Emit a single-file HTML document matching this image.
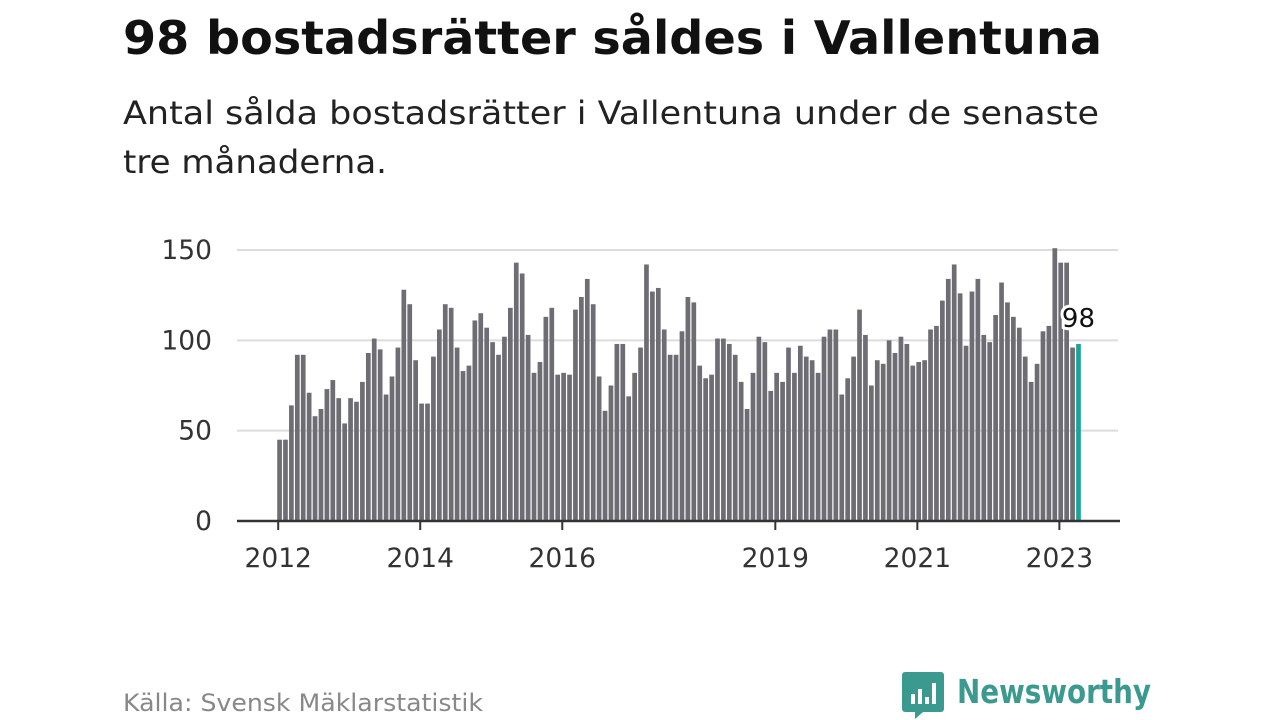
<!DOCTYPE html>
<html><head><meta charset="utf-8"><style>
html,body{margin:0;padding:0;background:#fff;width:1280px;height:720px;overflow:hidden}
svg{display:block}
</style></head><body>
<svg id="c" width="1280" height="720" xmlns="http://www.w3.org/2000/svg" font-family="'DejaVu Sans','Liberation Sans',sans-serif">
<text x="123" y="54" font-size="46" font-weight="bold" fill="#111" textLength="979" lengthAdjust="spacingAndGlyphs">98 bostadsrätter såldes i Vallentuna</text>
<text x="123" y="124" font-size="32" fill="#222" textLength="976" lengthAdjust="spacingAndGlyphs">Antal sålda bostadsrätter i Vallentuna under de senaste</text>
<text x="123" y="173" font-size="32" fill="#222" textLength="264" lengthAdjust="spacingAndGlyphs">tre månaderna.</text>
<g id="grid"></g><g id="bars"></g><g id="axes"></g>
<text x="123" y="711" font-size="24" fill="#888" textLength="360" lengthAdjust="spacingAndGlyphs">Källa: Svensk Mäklarstatistik</text>
<g>
<path d="M905 672 h36 a3 3 0 0 1 3 3 v34 a3 3 0 0 1 -3 3 h-18 l-8 7 v-7 h-10 a3 3 0 0 1 -3 -3 v-34 a3 3 0 0 1 3 -3z" fill="#3a9a8f"/>
<rect x="911" y="694" width="4" height="10" fill="#fff"/><rect x="918" y="689" width="4" height="15" fill="#fff"/><rect x="925" y="697" width="4" height="7" fill="#fff"/><rect x="932" y="683" width="4" height="21" fill="#fff"/>
<text x="957" y="703" font-size="33" font-weight="bold" fill="#3a9a8f" textLength="194" lengthAdjust="spacingAndGlyphs">Newsworthy</text>
</g>
</svg>
<script>
const values=[45,45,64,92,92,71,58,62,73,78,68,54,68,66,77,93,101,95,70,80,96,128,120,89,65,65,91,106,120,118,96,83,86,111,115,107,99,92,102,118,143,137,103,82,88,113,118,81,82,81,117,124,134,120,80,61,75,98,98,69,82,96,142,127,129,106,92,92,105,124,121,86,79,81,101,101,98,92,77,62,82,102,99,72,82,77,96,82,97,91,89,82,102,106,106,70,79,91,117,103,75,89,87,100,93,102,98,86,88,89,106,108,122,134,142,126,97,127,134,103,99,114,132,121,113,107,91,77,87,105,108,151,143,143,96,98];
const yTicks=[0,50,100,150];
const yearLabels=["2012","2014","2016","2019","2021","2023"];
const yearIndex=[0,24,48,84,108,132];
const ns="http://www.w3.org/2000/svg";
const y=v=>521-v*271/150;
const step=5.918,x0=277.2,bw=4.7;
const xOf=i=>x0+i*step;
function mk(t,a,p){const e=document.createElementNS(ns,t);for(const k in a)e.setAttribute(k,a[k]);p.appendChild(e);return e;}
const G=document.getElementById('grid'),B=document.getElementById('bars'),A=document.getElementById('axes');
yTicks.forEach(t=>{
 if(t>0){const l=mk('line',{x1:237,x2:1118,y1:y(t),y2:y(t),stroke:'#dcdcdc','stroke-width':2},G);
 
 }
 const tx=mk('text',{x:212,y:y(t)+9,'font-size':26.5,fill:'#333','text-anchor':'end'},A);tx.textContent=t;
 
 
});
values.forEach((v,i)=>{
 const last=i===values.length-1;
 const r=mk('rect',{x:xOf(i),y:y(v),width:bw,height:521-y(v),fill:last?'#1aa399':'#6e6d74'},B);
 
 
});
const li=values.length-1;
const lab=mk('text',{x:xOf(li)+bw/2,y:y(values[li])-17,'font-size':26,fill:'#111','text-anchor':'middle',stroke:'#fff','stroke-width':6,'paint-order':'stroke'},A);
lab.textContent=values[li];


const ax=mk('line',{x1:237,x2:1120,y1:521,y2:521,stroke:'#333','stroke-width':2.5},A);


yearLabels.forEach((s,k)=>{
 const cx=xOf(yearIndex[k])+1;
 mk('line',{x1:cx,x2:cx,y1:521,y2:530,stroke:'#333','stroke-width':2},A);
 const t=mk('text',{x:cx,y:567,'font-size':26.5,fill:'#333','text-anchor':'middle'},A);t.textContent=s;
 
 
});
</script>
</body></html>
